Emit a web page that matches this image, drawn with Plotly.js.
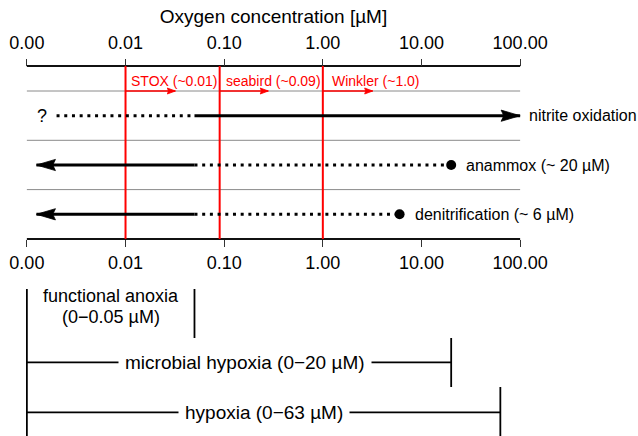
<!DOCTYPE html>
<html>
<head>
<meta charset="utf-8">
<script src="https://cdn.plot.ly/plotly-3.0.1.min.js"></script>
<style>
  html, body { margin: 0; padding: 0; background: #ffffff; }
  #chart { width: 638px; height: 436px; }
</style>
</head>
<body>
<div id="chart"></div>
<script>
// ---------------- data ----------------
const tickValues = [0.001, 0.01, 0.1, 1, 10, 100];
const tickLabels = ["0.00", "0.01", "0.10", "1.00", "10.00", "100.00"];
const axisTitle = "Oxygen concentration [µM]";

// oxygen sensors and their detection limits (µM)
const sensorLabels = ["STOX (~0.01)", "seabird (~0.09)", "Winkler (~1.0)"];
const sensorLimits = [0.01, 0.09, 1.0];
const sensorArrowEnds = [0.032, 0.28, 3.2];

// microbial processes
const processLabels = ["nitrite oxidation", "anammox (~ 20 µM)", "denitrification (~ 6 µM)"];
const solidFrom = [0.05, 0.05, 0.05];
const solidTo = [100, 0.00125, 0.00125];      // arrow tip
const dottedFrom = [0.002, 0.05, 0.05];
const dottedTo = [0.05, 20, 6];
const processLimits = [null, 20, 6];          // upper O2 limit (dot)
const uncertainMark = "?";

// oxygen ranges
const rangeLabels = ["functional anoxia<br>(0−0.05 µM)", "microbial hypoxia (0−20 µM)", "hypoxia (0−63 µM)"];
const rangeLow = [0.001, 0.001, 0.001];
const rangeHigh = [0.05, 20, 63];

// ---------------- layout constants (pixel rows of the 638x436 figure) ----------------
const W = 638, H = 436;
const AX_LEFT = 27.3, AX_RIGHT = 520.3, PAD = 0.1;
const lo = Math.log10(tickValues[0]), hi = Math.log10(tickValues[tickValues.length - 1]);
const DEC = (AX_RIGHT - AX_LEFT) / (hi - lo);       // pixels per decade
const marginL = AX_LEFT - PAD * DEC;
const marginR = W - (AX_RIGHT + PAD * DEC);

const Y = {
  topAxis: 66,
  sensorText: 80.5,
  sep: [91, 140.3, 189.6],
  rows: [115.7, 165, 214.3],
  bottomAxis: 239,
  brTop: [289, 338, 387],
  brBot: [338, 387, 436],
  brMid: [null, 362.3, 412.3],
  anoxiaLines: [295.5, 316.5]
};
const sensorShift = [3, 4.5, 7.5];
const labelShift = [7, 13, 13];
const rangeShift = [0, 6, 0];
const HEAD = { len: 19, half: 5.6 }, HEAD_RED = { len: 8, half: 3 };

const FONT = "Liberation Sans, Arial, Helvetica, sans-serif";
const RED = "#ff0000";

// ---------------- traces ----------------
const traces = [];
function line(x, y, color, width, extra) {
  traces.push(Object.assign({
    type: "scatter", mode: "lines", x: x, y: y,
    line: { color: color, width: width },
    hoverinfo: "skip", showlegend: false
  }, extra || {}));
}
// filled arrow head whose tip sits on the data value; size given in screen pixels
function head(tip, from, y, color, h) {
  const dir = tip > from ? 1 : -1;
  const back = function (px) { return tip * Math.pow(10, -dir * px / DEC); };
  traces.push({
    type: "scatter", mode: "lines", fill: "toself", fillcolor: color,
    x: [tip, back(h.len), back(h.len * 0.86), back(h.len), tip],
    y: [y, y - h.half, y, y + h.half, y],
    line: { color: color, width: 0.8 },
    hoverinfo: "skip", showlegend: false
  });
}
const xFirst = tickValues[0], xLast = tickValues[tickValues.length - 1];

// separators
Y.sep.forEach(function (yy) { line([xFirst, xLast], [yy, yy], "#8a8a8a", 1); });

// axis lines (between first and last tick)
line([xFirst, xLast], [Y.topAxis, Y.topAxis], "#111111", 2);
line([xFirst, xLast], [Y.bottomAxis, Y.bottomAxis], "#111111", 2);

// sensor detection limits
sensorLimits.forEach(function (v, i) {
  line([v, v], [Y.topAxis, Y.bottomAxis], RED, 2);
  line([v, sensorArrowEnds[i]], [Y.sep[0], Y.sep[0]], RED, 1.5,
    { line: { color: RED, width: 1.5, backoff: HEAD_RED.len * 0.75 } });
  head(sensorArrowEnds[i], v, Y.sep[0], RED, HEAD_RED);
});

// processes
processLabels.forEach(function (name, i) {
  const yy = Y.rows[i];
  line([dottedFrom[i], dottedTo[i]], [yy, yy], "#000000", 3,
    { line: { color: "#000000", width: 3, dash: "3px,4.7px" } });
  line([solidFrom[i], solidTo[i]], [yy, yy], "#000000", 3,
    { line: { color: "#000000", width: 3, backoff: HEAD.len * 0.75 } });
  head(solidTo[i], solidFrom[i], yy, "#000000", HEAD);
  if (processLimits[i] !== null) {
    traces.push({
      type: "scatter", mode: "markers",
      x: [processLimits[i]], y: [yy],
      marker: { color: "#000000", size: 10, symbol: "circle" },
      hoverinfo: "skip", showlegend: false
    });
  }
});

// range brackets
line([xFirst, xFirst], [Y.brTop[0], Y.brBot[2]], "#000000", 1.8);
rangeHigh.forEach(function (v, i) {
  line([v, v], [Y.brTop[i], Y.brBot[i]], "#000000", 1.8);
  if (Y.brMid[i] !== null) line([rangeLow[i], v], [Y.brMid[i], Y.brMid[i]], "#000000", 1.8);
});

// invisible trace so the top axis is drawn
traces.push({ type: "scatter", mode: "markers", x: [xFirst], y: [0], xaxis: "x2", yaxis: "y",
  marker: { opacity: 0 }, hoverinfo: "skip", showlegend: false });

// ---------------- annotations ----------------
const ann = [];
sensorLabels.forEach(function (t, i) {
  ann.push({ xref: "x", yref: "y", x: Math.log10(sensorLimits[i]), y: Y.sensorText, text: t,
    xanchor: "left", yanchor: "middle", xshift: sensorShift[i], showarrow: false,
    font: { family: FONT, size: 14, color: RED } });
});
ann.push({ xref: "x", yref: "y", x: Math.log10(dottedFrom[0]), y: Y.rows[0], text: uncertainMark,
  xanchor: "right", yanchor: "middle", xshift: -8, showarrow: false,
  font: { family: FONT, size: 18, color: "#000" } });
processLabels.forEach(function (t, i) {
  const xEnd = processLimits[i] !== null ? processLimits[i] : solidTo[i];
  ann.push({ xref: "x", yref: "y", x: Math.log10(xEnd), y: Y.rows[i], text: t,
    xanchor: "left", yanchor: "middle", xshift: labelShift[i], showarrow: false,
    font: { family: FONT, size: 16, color: "#000" } });
});
rangeLabels.forEach(function (t, i) {
  const xc = (Math.log10(rangeLow[i]) + Math.log10(rangeHigh[i])) / 2;
  if (i === 0) {
    t.split("<br>").forEach(function (part, k) {
      ann.push({ xref: "x", yref: "y", x: xc, y: Y.anoxiaLines[k], text: part,
        xanchor: "center", yanchor: "middle", showarrow: false, borderpad: 0,
        font: { family: FONT, size: 18, color: "#000" } });
    });
  } else {
    ann.push({ xref: "x", yref: "y", x: xc, y: Y.brMid[i], text: t, xshift: rangeShift[i],
      xanchor: "center", yanchor: "middle", showarrow: false, bgcolor: "#ffffff", borderpad: 6,
      font: { family: FONT, size: 19, color: "#000" } });
  }
});

// ---------------- layout ----------------
const xRange = [lo - PAD, hi + PAD];
const axisCommon = {
  type: "log", range: xRange, showgrid: false, zeroline: false, showline: false,
  tickmode: "array", tickvals: tickValues, ticktext: tickLabels,
  ticks: "outside", ticklen: 7, tickwidth: 1, tickcolor: "#333333",
  tickfont: { family: FONT, size: 18, color: "#000" }, automargin: false, fixedrange: true
};
const layout = {
  width: W, height: H,
  margin: { l: marginL, r: marginR, t: 0, b: 0, pad: 0 },
  paper_bgcolor: "#ffffff", plot_bgcolor: "#ffffff",
  showlegend: false,
  xaxis: Object.assign({}, axisCommon, { side: "bottom", anchor: "free", position: 1 - Y.bottomAxis / H, ticklabelstandoff: 0 }),
  xaxis2: Object.assign({}, axisCommon, { side: "top", anchor: "free", overlaying: "x", matches: "x",
    position: 1 - Y.topAxis / H, ticklabelstandoff: 3,
    title: { text: axisTitle, font: { family: FONT, size: 19, color: "#000" }, standoff: 3 } }),
  yaxis: { range: [H, 0], visible: false, fixedrange: true, domain: [0, 1] },
  annotations: ann
};

Plotly.newPlot("chart", traces, layout, { staticPlot: true, displayModeBar: false });
</script>
</body>
</html>
